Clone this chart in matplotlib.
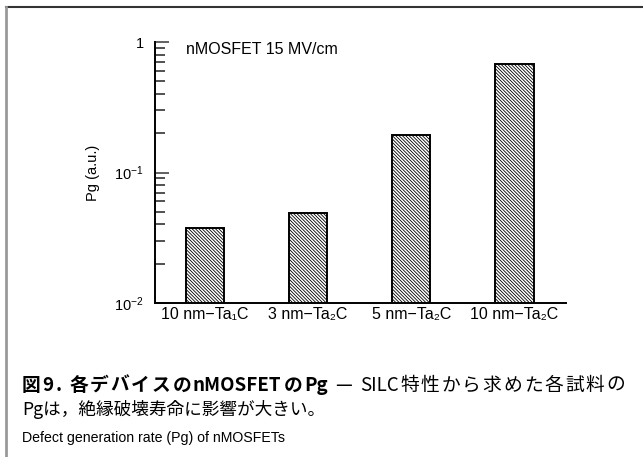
import matplotlib
matplotlib.use('Agg')
import matplotlib.pyplot as plt
from matplotlib.lines import Line2D
from matplotlib.ticker import LogLocator, FixedLocator, NullFormatter
import numpy as np

# data
samples = ['10 nm\u2212Ta\u2081C', '3 nm\u2212Ta\u2082C', '5 nm\u2212Ta\u2082C', '10 nm\u2212Ta\u2082C']
pg = [0.0376, 0.0492, 0.194, 0.678]
ytick_vals = [0.01, 0.1, 1]
ytick_labels = [r'$\mathregular{10^{-2}}$', r'$\mathregular{10^{-1}}$', '1']
cond = 'nMOSFET 15 MV/cm'
cap_bold = '図9. 各デバイスのnMOSFETのPg'
cap_rest = ' — SILC特性から求めた各試料の'
cap_line2 = 'Pgは，絶縁破壊寿命に影響が大きい。'
cap_en = 'Defect generation rate (Pg) of nMOSFETs'

plt.rcParams['font.family'] = ['Liberation Sans', 'DejaVu Sans']
plt.rcParams['mathtext.fontset'] = 'custom'
plt.rcParams['mathtext.rm'] = 'Liberation Sans'
plt.rcParams['hatch.linewidth'] = 0.6

W, H = 643, 457
fig = plt.figure(figsize = (W/100, H/100), dpi = 100)
ax = fig.add_axes([155/W, 1 - 303/H, 411/W, 261/H])

x = np.arange(len(samples))
ax.bar(x, pg, width = 0.37, color = 'white', edgecolor = 'black', linewidth = 1.4,
       hatch = '\\' * 10)
ax.set_yscale('log')
ax.set_ylim(0.01, 1)
ax.set_xlim(-0.485, 3.5)

ax.spines['top'].set_visible(False)
ax.spines['right'].set_visible(False)
ax.spines['left'].set_linewidth(1.4)
ax.spines['bottom'].set_linewidth(1.4)

ax.yaxis.set_major_locator(FixedLocator(ytick_vals))
ax.set_yticklabels(ytick_labels)
ax.yaxis.set_minor_locator(LogLocator(base = 10, subs = np.arange(2, 10)))
ax.yaxis.set_minor_formatter(NullFormatter())
ax.tick_params(axis = 'y', which = 'major', direction = 'in', length = 10, width = 1.3,
               labelsize = 10.5, pad = 8, color = '#555555')
ax.tick_params(axis = 'y', which = 'minor', direction = 'in', length = 7, width = 1.2,
               color = '#333333')
ax.set_xticks(x)
ax.set_xticklabels(samples)
ax.tick_params(axis = 'x', length = 0, labelsize = 11.5, pad = 3)

ax.set_ylabel('Pg (a.u.)', fontsize = 10.5, labelpad = 10)
ax.text(186/W, 1 - 50/H, cond, transform = fig.transFigure, fontsize = 11.5,
        ha = 'left', va = 'center')

# caption, first line justified to the full width
# latin words stay together, extra space goes between the other glyphs
jp = ['Noto Sans CJK JP', 'DejaVu Sans']
fs1 = 13.5
renderer = fig.canvas.get_renderer()
units = []
for s, wt in [(cap_bold, 'bold'), (cap_rest, 'normal')]:
	for ch in s:
		if units and ch.isascii() and ch.isalnum() and units[-1][0][-1].isascii() \
				and units[-1][0][-1].isalnum() and units[-1][1] == wt:
			units[-1] = (units[-1][0] + ch, wt)
		else:
			units.append((ch, wt))

def unit_width(s, wt):
	if s == ' ':
		return 4.0
	t = fig.text(0, 0, s, family = jp, fontsize = fs1, fontweight = wt)
	w = t.get_window_extent(renderer).width
	t.remove()
	return w

widths = [unit_width(s, wt) for s, wt in units]
x0, x1 = 22.0, 625.0
extra = (x1 - x0 - sum(widths)) / (len(units) - 1)
xpos = x0
for (s, wt), w in zip(units, widths):
	if s != ' ':
		fig.text(xpos/W, 1 - 391/H, s, family = jp, fontsize = fs1, fontweight = wt,
		         ha = 'left', va = 'baseline')
	xpos += w + extra

fig.text(22/W, 1 - 415/H, cap_line2, family = jp, fontsize = 12.7,
         ha = 'left', va = 'baseline')
fig.text(22/W, 1 - 442/H, cap_en, fontsize = 10.2, ha = 'left', va = 'baseline')

# frame lines (top and left only)
fig.add_artist(Line2D([6/W, 1], [1 - 7/H, 1 - 7/H], transform = fig.transFigure,
                      color = '#333333', linewidth = 1.5))
fig.add_artist(Line2D([6/W, 6/W], [0, 1 - 7/H], transform = fig.transFigure,
                      color = '#999999', linewidth = 2))

fig.savefig('out.png', dpi = 100)
